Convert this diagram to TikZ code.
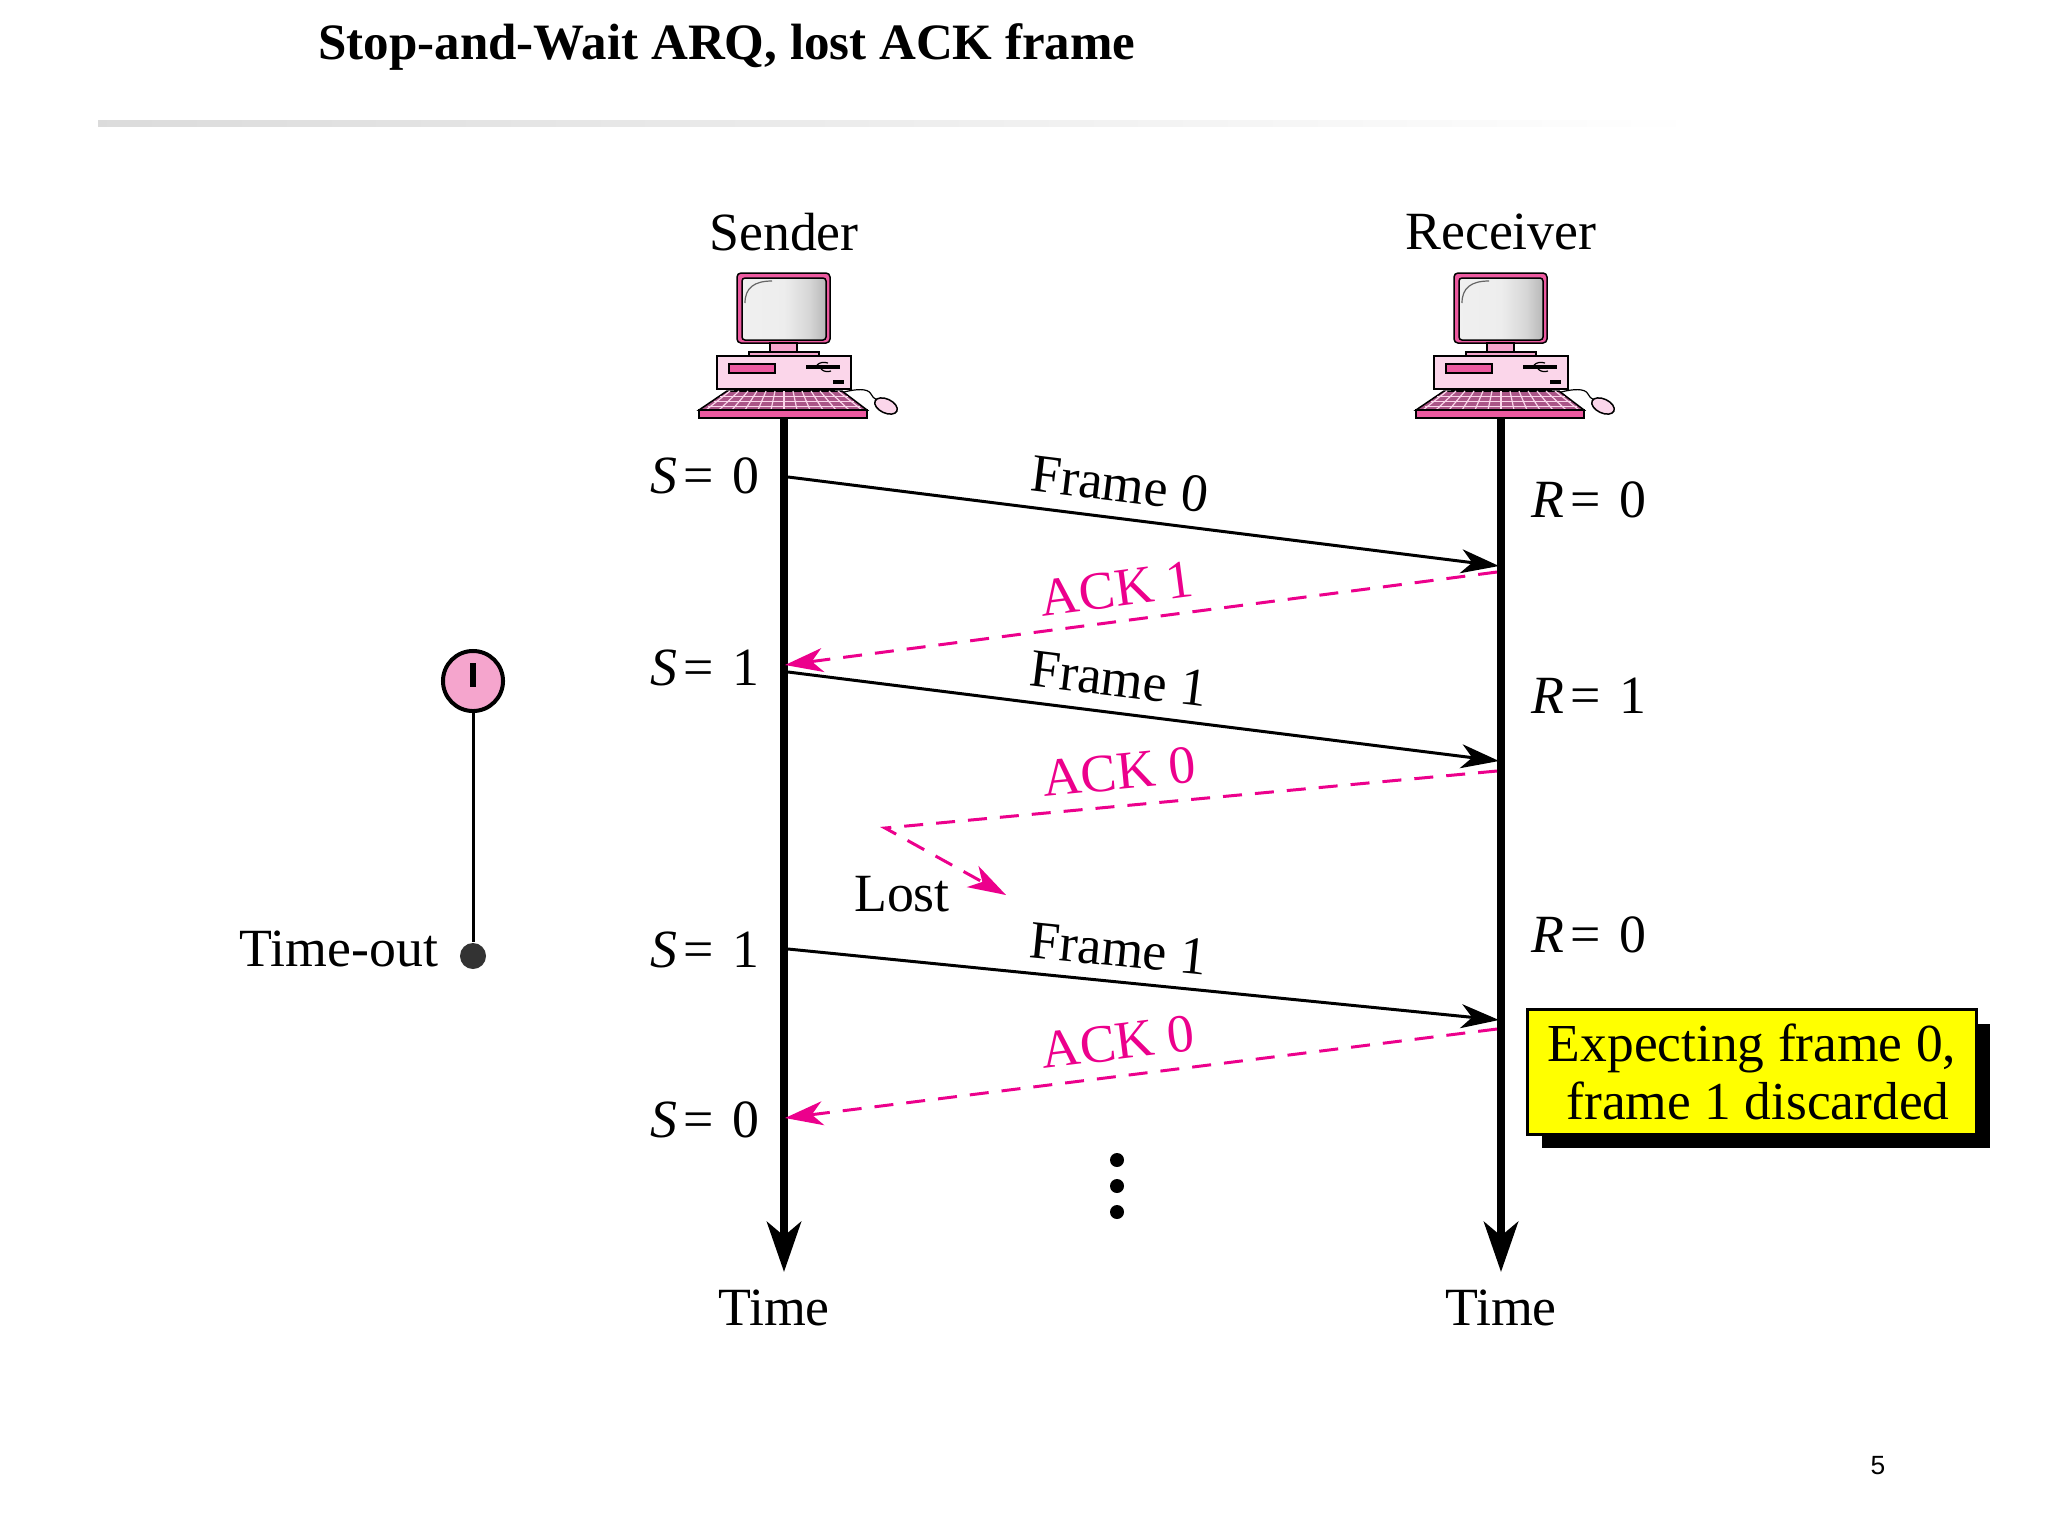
\documentclass[tikz,border=0pt]{standalone}
\usepackage{fontspec}
\setmainfont{Liberation Serif}
\setsansfont{Liberation Sans}
\usetikzlibrary{arrows.meta}
\usetikzlibrary{shadows}
\definecolor{ackpink}{RGB}{236,0,140}
\definecolor{pcpink}{RGB}{236,90,160}
\definecolor{pcpale}{RGB}{251,214,234}
\definecolor{pcmid}{RGB}{245,165,205}
\definecolor{keypink}{RGB}{170,85,135}
\definecolor{noteyellow}{RGB}{255,255,0}
\pgfdeclarehorizontalshading{screenshade}{100bp}{
  color(0bp)=(black!5); color(50bp)=(black!7); color(65bp)=(black!16); color(100bp)=(black!58)}
\tikzset{>=latex}
\tikzstyle{lifeline}=[draw=black,line width=0.08cm,-{Stealth[length=0.5cm,width=0.34cm,inset=0.14cm]}]
\tikzstyle{frameline}=[draw=black,line width=0.03cm,-{Stealth[length=0.38cm,width=0.24cm,inset=0.11cm]}]
\tikzstyle{ackline}=[draw=ackpink,line width=0.03cm,dash pattern=on 0.19cm off 0.13cm,-{Stealth[length=0.38cm,width=0.24cm,inset=0.11cm]}]
\tikzstyle{difflabel}=[font=\fontsize{15.3}{18}\selectfont,inner sep=0pt]
\tikzstyle{acklabel}=[difflabel,text=ackpink]
\newcommand{\seqlabel}[2]{\textit{#1}\kern1.5pt= \kern1.5pt#2}
\tikzset{
  pics/computer/.style={code={
    % monitor
    \draw[fill=pcpink,line width=0.015cm,rounded corners=0.04cm] (-47,-145) rectangle (46,-75);
    \shadedraw[shading=screenshade,line width=0.015cm,rounded corners=0.03cm] (-42,-140) rectangle (42,-78);
    \draw[black!60,line width=0.012cm] (-39,-115) .. controls (-39,-130) and (-30,-137) .. (-12,-137);
    \draw[fill=pcmid,line width=0.012cm] (-14,-75) rectangle (13,-66);
    \draw[fill=pcmid,line width=0.012cm] (-35,-66) rectangle (35,-62);
    % case
    \draw[fill=pcpale,line width=0.015cm] (-67,-62) rectangle (67,-29);
    \draw[fill=pcpink,line width=0.012cm] (-55,-54) rectangle (-9,-45);
    \draw[fill=pcpink,line width=0.012cm] (23,-52) rectangle (55,-50);
    \draw[line width=0.012cm] (33,-53) .. controls (36,-56) and (40,-56) .. (44,-55);
    \draw[line width=0.012cm] (37,-49) .. controls (40,-46) and (44,-46) .. (47,-47);
    \fill (49,-38) rectangle (60,-34);
    \draw[fill=pcmid,line width=0.012cm] (-49,-29) rectangle (50,-27);
    % keyboard
    \draw[fill=keypink,line width=0.015cm] (-57,-27) -- (58,-27) -- (83,-8) -- (-85,-8) -- cycle;
    \foreach \k in {-6,...,6} {
      \draw[pcpale,line width=0.012cm] ({\k*9},-27) -- ({\k*13},-8);
    }
    \foreach \r/\w in {-22/64,-17/70,-12/76} {
      \draw[pcpale,line width=0.008cm] (-\w,\r) -- (\w,\r);
    }
    \draw[fill=pcpink,line width=0.015cm] (-85,-8) rectangle (83,0);
    % mouse
    \draw[line width=0.012cm] (60,-26) .. controls (72,-29) and (84,-30) .. (87,-24) .. controls (88,-21) and (90,-20) .. (93,-18);
    \draw[fill=pcpale,line width=0.015cm,rotate around={-25:(102,-12)}] (102,-12) ellipse (12 and 7);
  }}
}
\begin{document}
\begin{tikzpicture}[x=0.01cm,y=-0.01cm]
  \useasboundingbox (0,0) rectangle (2048,1536);

  \node[font=\fontsize{14.5}{17}\bfseries\selectfont,inner sep=0pt] (title) at (727,47) {Stop-and-Wait ARQ, lost ACK frame};
  \shade[left color=black!14,right color=white] (98,120) rectangle (1698,126);

  \node[difflabel] (sender) at (784,232) {Sender};
  \node[difflabel] (receiver) at (1501,232) {Receiver};
  \pic at (784,418) {computer};
  \pic at (1501,418) {computer};

  \coordinate (stop) at (784,418);
  \coordinate (send) at (784,1272);
  \coordinate (rtop) at (1501,418);
  \coordinate (rend) at (1501,1272);
  \draw[lifeline] (stop) -- (send);
  \draw[lifeline] (rtop) -- (rend);
  \node[difflabel] (stime) at (774,1308) {Time};
  \node[difflabel] (rtime) at (1501,1308) {Time};

  % sequence numbers
  \node[difflabel] (s0) at (705,476) {\seqlabel{S}{0}};
  \node[difflabel] (s1) at (705,668) {\seqlabel{S}{1}};
  \node[difflabel] (s1b) at (705,950) {\seqlabel{S}{1}};
  \node[difflabel] (s0b) at (705,1120) {\seqlabel{S}{0}};
  \node[difflabel] (r0) at (1589,500) {\seqlabel{R}{0}};
  \node[difflabel] (r1) at (1589,696) {\seqlabel{R}{1}};
  \node[difflabel] (r0b) at (1589,935) {\seqlabel{R}{0}};

  % frames and acks
  \coordinate (f0a) at (788,477);
  \coordinate (f0b) at (1499,566);
  \coordinate (a1a) at (1497,572);
  \coordinate (a1b) at (785,665);
  \coordinate (f1a) at (788,672);
  \coordinate (f1b) at (1499,761);
  \coordinate (a0a) at (1497,771);
  \coordinate (lostbend) at (885,828);
  \coordinate (lostend) at (1006,895);
  \coordinate (f2a) at (788,949);
  \coordinate (f2b) at (1499,1020);
  \coordinate (a2a) at (1497,1029);
  \coordinate (a2b) at (785,1118);
  \draw[frameline] (f0a) -- (f0b);
  \draw[ackline] (a1a) -- (a1b);
  \draw[frameline] (f1a) -- (f1b);
  \draw[ackline] (a0a) -- (lostbend) -- (lostend);
  \draw[frameline] (f2a) -- (f2b);
  \draw[ackline] (a2a) -- (a2b);

  \node[difflabel,rotate=-7] (lf0) at (1120,484) {Frame 0};
  \node[acklabel,rotate=7.5] (la1) at (1117,589) {ACK 1};
  \node[difflabel,rotate=-7] (lf1) at (1119,679) {Frame 1};
  \node[acklabel,rotate=5.5] (la0) at (1119,772) {ACK 0};
  \node[difflabel] (lost) at (902,894) {Lost};
  \node[difflabel,rotate=-5.7] (lf2) at (1119,949) {Frame 1};
  \node[acklabel,rotate=7] (la2) at (1118,1042) {ACK 0};

  % timer
  \node[circle,draw=black,fill=pcmid,line width=0.04cm,minimum size=0.6cm,inner sep=0pt] (clock) at (473,681) {};
  \draw[line width=0.06cm] (473,663) -- (473,687);
  \node[circle,fill=black!80,minimum size=0.26cm,inner sep=0pt] (timeout) at (473,956) {};
  \draw[line width=0.03cm] (clock) -- (timeout);
  \node[difflabel] (timeoutlabel) at (339,949) {Time-out};

  % continuation
  \foreach \y in {1160,1186,1212} {
    \node[circle,fill=black,minimum size=0.14cm,inner sep=0pt] (dot\y) at (1117,\y) {};
  }

  \node[font=\fontsize{15.2}{16.3}\selectfont,inner sep=0pt,draw=black,fill=noteyellow,line width=0.03cm,minimum width=4.48cm,minimum height=1.24cm,align=center,
    general shadow={fill=black,shadow xshift=0.14cm,shadow yshift=-0.14cm}] (note) at (1752,1072) {Expecting frame 0,\\\hspace*{0.12cm}frame 1 discarded};

  \node[font=\sffamily\fontsize{7.5}{9}\selectfont,inner sep=0pt] (page) at (1878,1466) {5};
\end{tikzpicture}
\end{document}
